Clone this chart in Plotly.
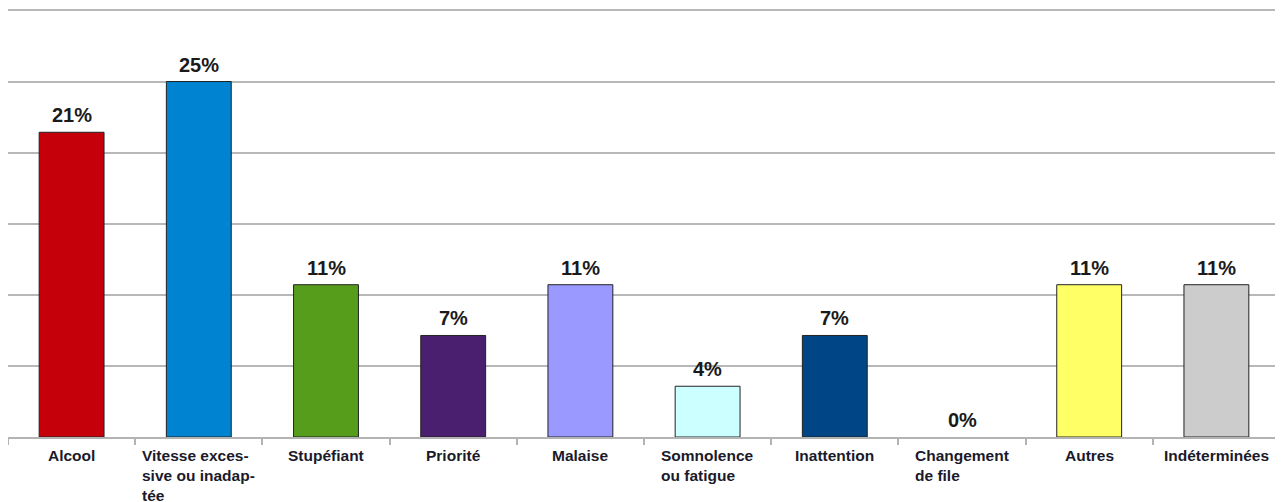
import plotly.graph_objects as go

categories = ["Alcool", "Vitesse excessive ou inadaptée", "Stupéfiant", "Priorité", "Malaise",
              "Somnolence ou fatigue", "Inattention", "Changement de file", "Autres", "Indéterminées"]
tick_labels = ["Alcool", "Vitesse exces-<br>sive ou inadap-<br>tée", "Stupéfiant", "Priorité", "Malaise",
               "Somnolence<br>ou fatigue", "Inattention", "Changement<br>de file", "Autres", "Indéterminées"]
values = [21.43, 25.0, 10.71, 7.14, 10.71, 3.57, 7.14, 0.0, 10.71, 10.71]
colors = ["#c5000b", "#0084d1", "#579d1c", "#4b1f6f", "#9999ff",
          "#ccffff", "#004586", "#ff420e", "#ffff66", "#cccccc"]

outline_widths = [1 if v > 0 else 0 for v in values]

fig = go.Figure()
fig.add_trace(go.Bar(
    x=categories, y=values,
    marker=dict(color=colors, line=dict(color="#222222", width=outline_widths)),
    width=0.51, hoverinfo="skip",
))

annotations = []
for c, v in zip(categories, values):
    annotations.append(dict(
        x=c, y=v, xref="x", yref="y", text=f"{v:.0f}%", showarrow=False,
        yanchor="bottom", yshift=4,
        font=dict(family="Liberation Sans", size=20, color="#1a1a1a", weight="bold"),
    ))
for c, t in zip(categories, tick_labels):
    annotations.append(dict(
        x=c, y=0, xref="x", yref="y", text=t, showarrow=False, align="left",
        xanchor="center", yanchor="top", yshift=-8,
        font=dict(family="Liberation Sans", size=15.5, color="#1a1a2a", weight="bold"),
    ))

fig.update_layout(
    width=1275, height=494,
    margin=dict(l=0, r=3, t=1, b=65),
    paper_bgcolor="white", plot_bgcolor="white",
    showlegend=False,
    annotations=annotations,
    xaxis=dict(
        type="category", showticklabels=False, ticks="outside", tickson="boundaries",
        ticklen=6, tickcolor="#b3b3b3", tickwidth=1.5,
        showline=True, linecolor="#b3b3b3", linewidth=1.5, showgrid=False,
    ),
    yaxis=dict(
        range=[0, 30.1], dtick=5, showticklabels=False, showgrid=True,
        gridcolor="#b8b8b8", gridwidth=1.5, zeroline=False, showline=False,
    ),
)

fig.write_html("out.html")
